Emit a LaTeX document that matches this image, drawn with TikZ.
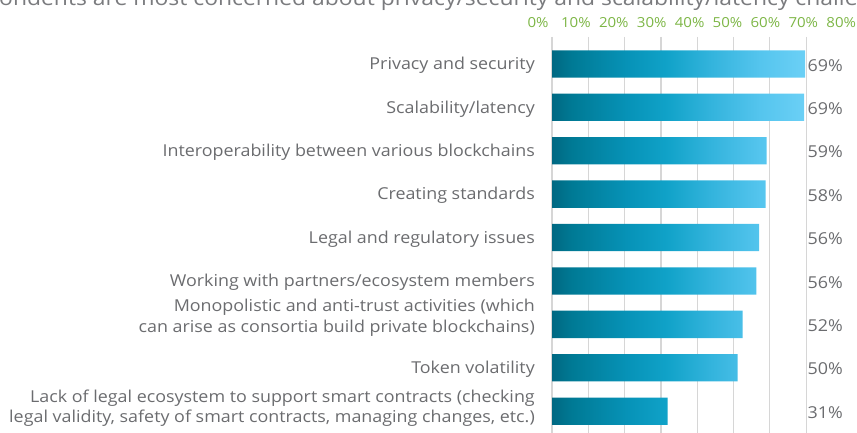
\documentclass[tikz,border=0pt]{standalone}
\usepackage{fontspec}
\setmainfont{Open Sans}[FakeStretch=1.09]
\definecolor{lbl}{HTML}{6B6C6F}
\definecolor{ttl}{HTML}{7A7B7E}
\definecolor{axg}{HTML}{7DB646}
\definecolor{grid}{HTML}{D6D6D6}
\definecolor{b0}{HTML}{006882}
\definecolor{b1}{HTML}{007A95}
\definecolor{b2}{HTML}{0793B8}
\definecolor{b3}{HTML}{10A2C8}
\definecolor{b4}{HTML}{32B3DC}
\definecolor{b5}{HTML}{55C5EE}
\definecolor{b6}{HTML}{6CD0F6}
\pgfdeclarehorizontalshading{barshade}{100bp}{color(0bp)=(b0); color(25bp)=(b0); color(29bp)=(b1); color(40bp)=(b2); color(47.5bp)=(b3); color(56bp)=(b4); color(66bp)=(b5); color(75bp)=(b6); color(100bp)=(b6)}
\tikzset{
  catlbl/.style={anchor=east, inner sep=0pt, align=right, text=lbl, font=\fontsize{16.4}{20.5}\selectfont},
  pctlbl/.style={anchor=west, inner sep=0pt, text=lbl, font=\fontsize{16.4}{20.5}\selectfont},
  axlbl/.style={inner sep=0pt, text=axg, font=\fontsize{13.8}{16}\selectfont},
  gridln/.style={draw=grid, line width=1.2pt},
}
\begin{document}
\begin{tikzpicture}[x=1pt,y=-1pt]
\useasboundingbox (0,0) rectangle (857,433);
\clip (0,0) rectangle (857,433);
% title (cut off at top)
\node[anchor=base west, inner sep=0pt, text=ttl, font=\fontsize{21}{24}\selectfont] (title) at (-1,5.5) {ondents are most concerned about privacy/security and scalability/latency challenges};
% axis labels
\foreach \i/\t in {0/0\%,1/10\%,2/20\%,3/30\%,4/40\%,5/50\%,6/60\%,7/70\%,8/80\%}{
  \node[axlbl] (ax\i) at ({538+37.9*\i},22.5) {\t};
}
% gridlines
\foreach \i in {0,...,7}{
  \draw[gridln] ({552+36.3*\i},37) -- ({552+36.3*\i},433);
}
% bars
\begin{scope}
\clip (552,50.3) rectangle (805,77.6)
      (552,93.7) rectangle (804,121)
      (552,137.1) rectangle (766.7,164.4)
      (552,180.5) rectangle (765.7,207.8)
      (552,223.9) rectangle (759,251.2)
      (552,267.3) rectangle (756.3,294.6)
      (552,310.7) rectangle (742.7,338)
      (552,354.1) rectangle (737.7,381.4)
      (552,397.5) rectangle (667.7,424.8);
\shade[shading=barshade] (552,45) rectangle (806,430);
\end{scope}
% category labels
\node[catlbl] (c1) at (535,65.5) {Privacy and security};
\node[catlbl] (c2) at (535,108.9) {Scalability/latency};
\node[catlbl] (c3) at (535,152.3) {Interoperability between various blockchains};
\node[catlbl] (c4) at (535,195.7) {Creating standards};
\node[catlbl] (c5) at (535,239.1) {Legal and regulatory issues};
\node[catlbl] (c6) at (535,282.5) {Working with partners/ecosystem members};
\node[catlbl] (c7) at (535,317.5) {Monopolistic and anti-trust activities (which\\can arise as consortia build private blockchains)};
\node[catlbl] (c8) at (535,369.3) {Token volatility};
\node[catlbl] (c9) at (535,408) {Lack of legal ecosystem to support smart contracts (checking\\legal validity, safety of smart contracts, managing changes, etc.)};
% percentages
\node[pctlbl] (p1) at (807.5,65.2) {69\%};
\node[pctlbl] (p2) at (807.5,108.6) {69\%};
\node[pctlbl] (p3) at (807.5,152) {59\%};
\node[pctlbl] (p4) at (807.5,195.4) {58\%};
\node[pctlbl] (p5) at (807.5,238.8) {56\%};
\node[pctlbl] (p6) at (807.5,282.2) {56\%};
\node[pctlbl] (p7) at (807.5,325.6) {52\%};
\node[pctlbl] (p8) at (807.5,369) {50\%};
\node[pctlbl] (p9) at (807.5,412.4) {31\%};
\end{tikzpicture}
\end{document}
